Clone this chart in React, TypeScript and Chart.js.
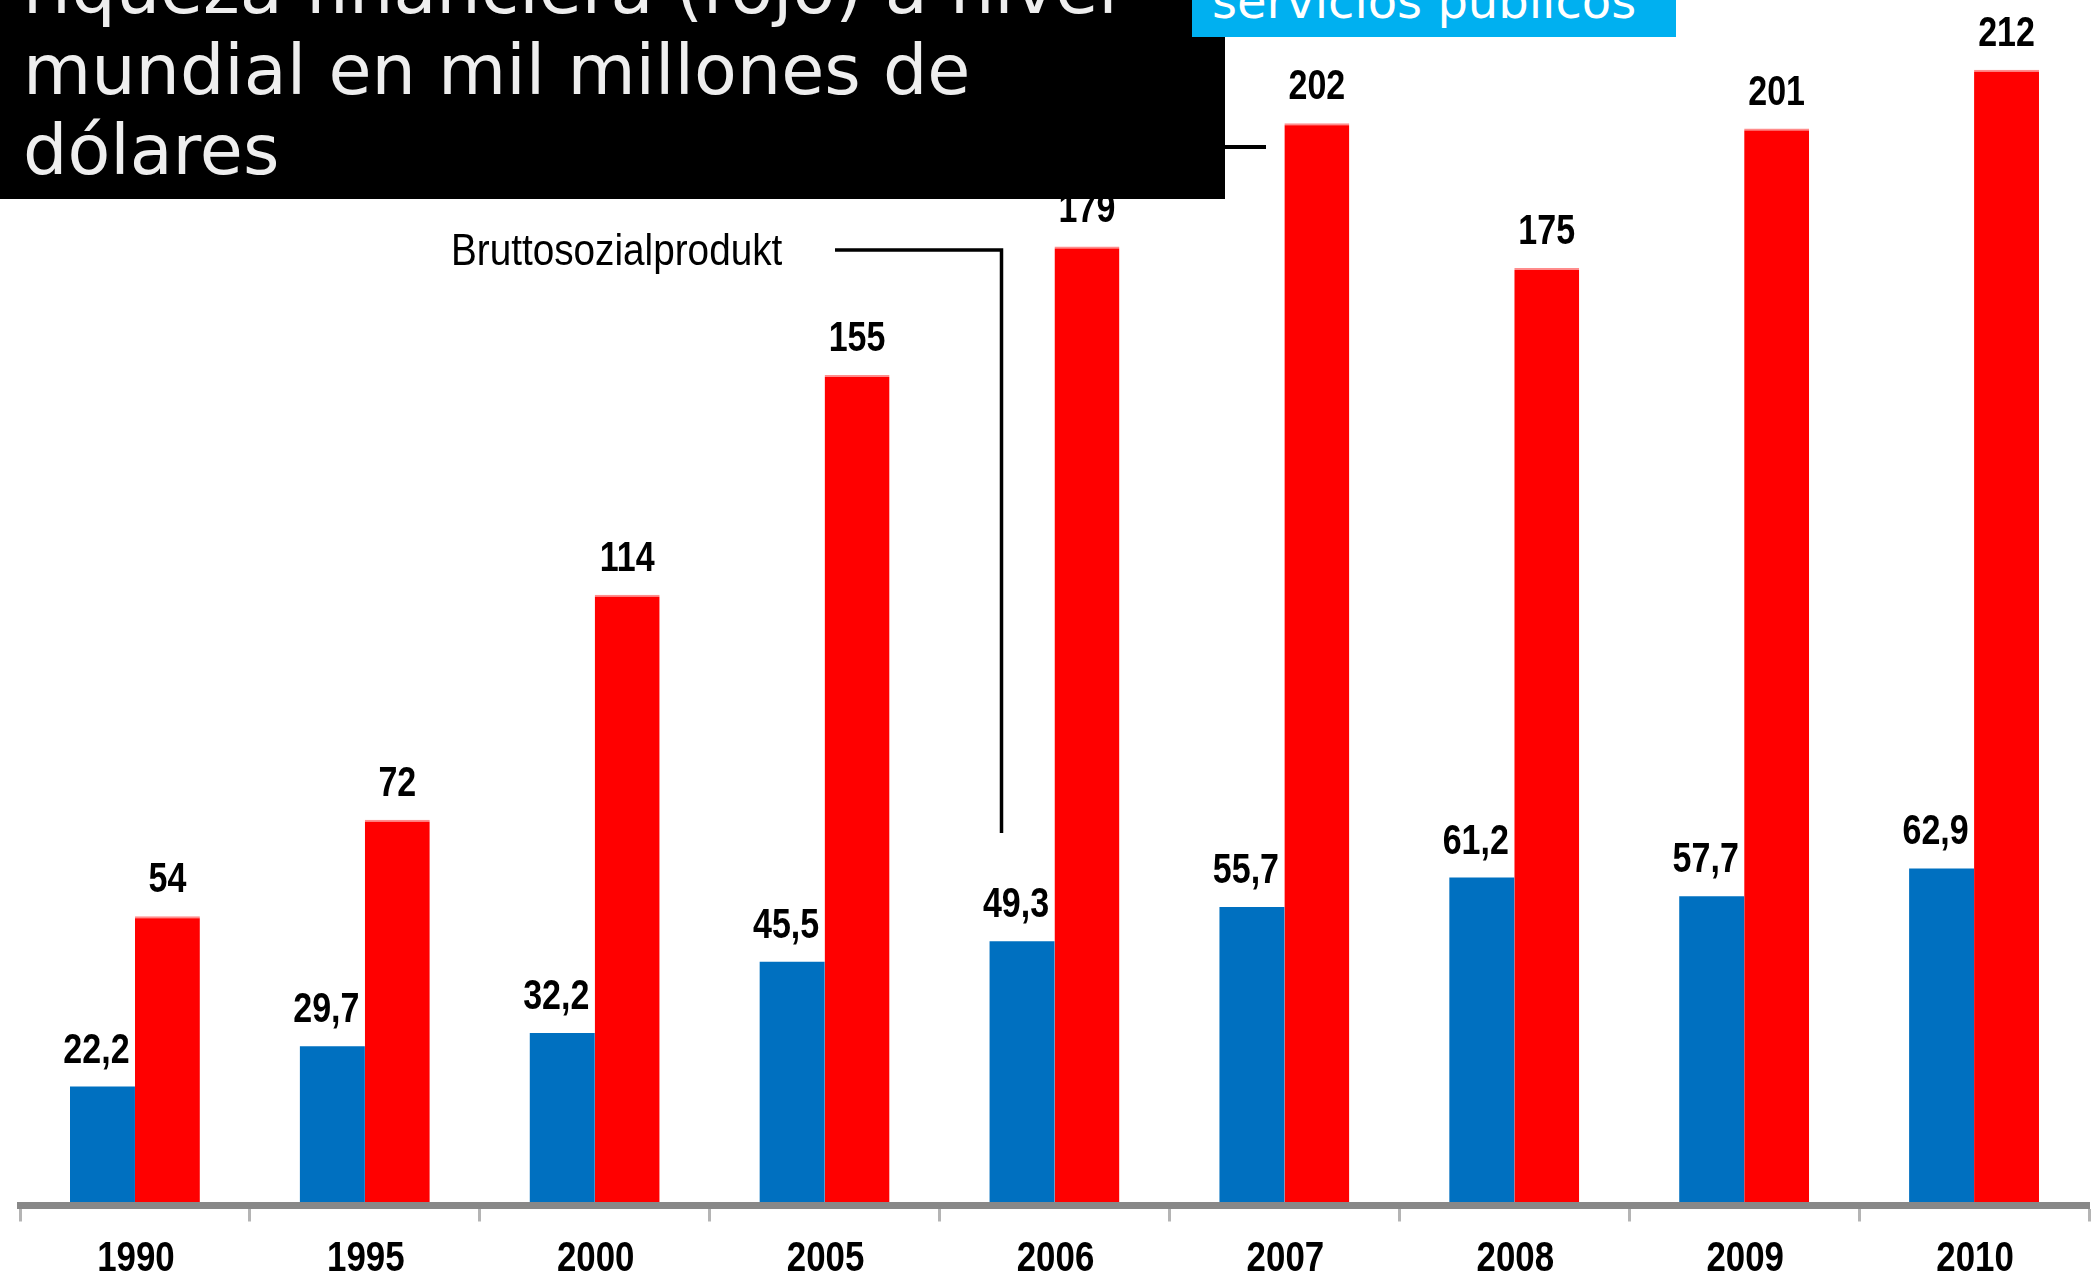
import React, { useEffect, useRef } from 'react';
import { Chart, registerables } from 'chart.js';

Chart.register(...registerables);

// ---- data ----
const years = ['1990', '1995', '2000', '2005', '2006', '2007', '2008', '2009', '2010'];
const gdpValues = [22.2, 29.7, 32.2, 45.5, 49.3, 55.7, 61.2, 57.7, 62.9];
const wealthValues = [54, 72, 114, 155, 179, 202, 175, 201, 212];
const yMax = 225;
const titleLines = ['riqueza financiera (rojo) a nivel', 'mundial en mil millones de', 'dólares'];
const calloutText = 'servicios públicos';
const annotationText = 'Bruttosozialprodukt';

const BLUE = '#0070C0';
const RED = '#FF0000';
const NARROW = 0.81;

const labelPlugin = {
  id: 'valueLabels',
  afterDraw(chart: any) {
    const ctx = chart.ctx as CanvasRenderingContext2D;
    ctx.save();
    ctx.fillStyle = '#000';
    ctx.textAlign = 'center';
    ctx.textBaseline = 'alphabetic';
    ctx.font = 'bold 42px "Liberation Sans", Arial, sans-serif';
    chart.data.datasets.forEach((ds: any, di: number) => {
      const meta = chart.getDatasetMeta(di);
      meta.data.forEach((bar: any, i: number) => {
        const v = ds.data[i] as number;
        const text = di === 0 ? v.toFixed(1).replace('.', ',') : String(v);
        ctx.save();
        ctx.translate(bar.x + (di === 0 ? -6 : 0), bar.y - 24);
        ctx.scale(NARROW, 1);
        ctx.fillText(text, 0, 0);
        ctx.restore();
      });
    });
    // category labels (condensed)
    const xs = chart.scales.x;
    chart.data.labels.forEach((lab: string, i: number) => {
      ctx.save();
      ctx.translate(xs.getPixelForTick(i) + 1, xs.top + 65.5);
      ctx.scale(0.83, 1);
      ctx.fillText(lab, 0, 0);
      ctx.restore();
    });
    // annotation text
    ctx.save();
    ctx.textAlign = 'left';
    ctx.font = '45px "Liberation Sans", Arial, sans-serif';
    ctx.translate(451, 265);
    ctx.scale(0.86, 1);
    ctx.fillText(annotationText, 0, 0);
    ctx.restore();
    // leader lines
    ctx.strokeStyle = '#000';
    ctx.lineWidth = 3.5;
    ctx.beginPath();
    ctx.moveTo(835, 250);
    ctx.lineTo(1001.5, 250);
    ctx.lineTo(1001.5, 833);
    ctx.stroke();
    ctx.lineWidth = 4;
    ctx.beginPath();
    ctx.moveTo(1220, 147);
    ctx.lineTo(1266, 147);
    ctx.stroke();
    ctx.restore();
  },
};

export default function App() {
  const canvasRef = useRef<HTMLCanvasElement | null>(null);

  useEffect(() => {
    const canvas = canvasRef.current;
    if (!canvas) return;
    const chart = new Chart(canvas, {
      type: 'bar',
      data: {
        labels: years,
        datasets: [
          {
            label: 'Bruttosozialprodukt',
            data: gdpValues,
            backgroundColor: BLUE,
            borderWidth: 0,
            categoryPercentage: 0.565,
            barPercentage: 1,
          },
          {
            label: 'Finanzvermögen',
            data: wealthValues,
            backgroundColor: RED,
            borderColor: '#ff8c8c',
            borderWidth: { top: 2, left: 0, right: 0, bottom: 0 },
            borderSkipped: 'bottom',
            categoryPercentage: 0.565,
            barPercentage: 1,
          },
        ],
      },
      options: {
        responsive: false,
        animation: false,
        devicePixelRatio: 1,
        layout: { padding: { left: 20, right: 8, top: 0, bottom: 65.5 } },
        plugins: {
          legend: { display: false },
          tooltip: { enabled: false },
          title: { display: false },
        },
        scales: {
          x: {
            grid: {
              display: true,
              drawOnChartArea: false,
              drawTicks: true,
              tickLength: 16,
              tickWidth: 3,
              tickColor: '#b4b4b4',
              offset: true,
            },
            border: { display: true, color: '#888888', width: 7, z: 1 },
            ticks: { display: false },
          },
          y: { display: false, min: 0, max: yMax },
        },
      },
      plugins: [labelPlugin],
    });
    return () => chart.destroy();
  }, []);

  return (
    <div style={{ position: 'absolute', left: 0, top: 0, width: 2097, height: 1287, background: '#fff', overflow: 'hidden' }}>
      <canvas ref={canvasRef} width={2097} height={1287} style={{ position: 'absolute', left: 0, top: 0, width: 2097, height: 1287 }} />
      <div
        style={{
          position: 'absolute',
          left: 0,
          top: 0,
          width: 1225,
          height: 199,
          background: '#000',
          overflow: 'hidden',
        }}
      >
        <div
          style={{
            position: 'absolute',
            left: 23,
            top: -51,
            color: '#eeeeee',
            fontFamily: '"DejaVu Sans", sans-serif',
            fontSize: 70,
            lineHeight: '80.5px',
            whiteSpace: 'nowrap',
          }}
        >
          {titleLines.map((l, i) => (
            <div key={i}>{l}</div>
          ))}
        </div>
      </div>
      <div
        style={{
          position: 'absolute',
          left: 1192,
          top: 0,
          width: 484,
          height: 37,
          background: '#00B0F0',
          overflow: 'hidden',
        }}
      >
        <div
          style={{
            position: 'absolute',
            left: 20,
            top: -27,
            color: '#ffffff',
            fontFamily: '"DejaVu Sans", sans-serif',
            fontSize: 48,
            lineHeight: '56px',
            whiteSpace: 'nowrap',
          }}
        >
          {calloutText}
        </div>
      </div>
    </div>
  );
}
